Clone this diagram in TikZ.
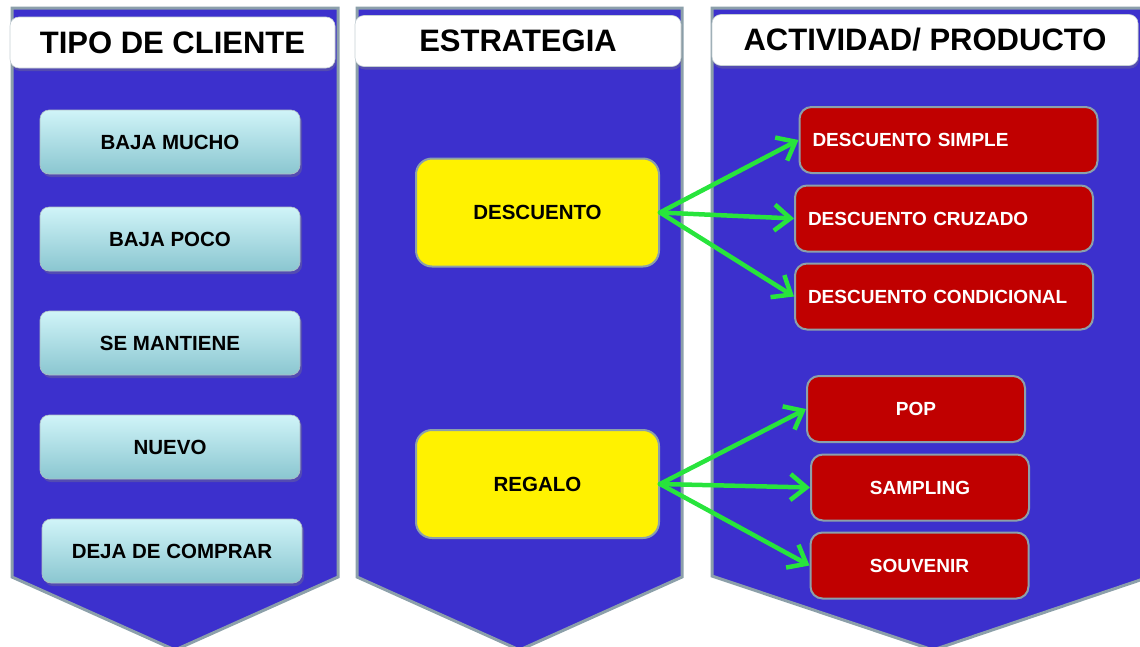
\documentclass[tikz,border=0pt]{standalone}
\usepackage{fontspec}
\setmainfont{Liberation Sans}
\usetikzlibrary{arrows.meta, shadows}

\definecolor{panelblue}{RGB}{60,48,205}
\definecolor{rimgrey}{RGB}{140,160,170}
\definecolor{boxred}{RGB}{192,0,0}
\definecolor{arrowgreen}{RGB}{40,228,60}
\definecolor{cyantop}{RGB}{208,244,248}
\definecolor{cyanbot}{RGB}{138,198,208}

\begin{document}
\begin{tikzpicture}[
            x = 1pt, y = -1pt, % one unit per pixel, y runs down
            > = {Straight Barb[length=16pt, width=26pt]}, % arrow head style
            semithick % line style
        ]

        \tikzstyle{panel}=[
            fill = panelblue,
            draw = rimgrey,
            line width = 3pt
        ]
        \tikzstyle{header}=[
            draw = rimgrey!50,
            fill = white,
            rounded corners = 9pt,
            minimum height = 51pt,
            font = \bfseries\fontsize{31}{31}\selectfont,
            drop shadow = {opacity = .35, shadow xshift = 1pt, shadow yshift = -3pt}
        ]
        \tikzstyle{client}=[
            draw = rimgrey!70,
            top color = cyantop,
            bottom color = cyanbot,
            rounded corners = 9pt,
            minimum width = 260pt,
            minimum height = 64pt,
            font = \bfseries\fontsize{20.5}{20.5}\selectfont,
            drop shadow = {opacity = .35, shadow xshift = 2pt, shadow yshift = -3pt}
        ]
        \tikzstyle{strategy}=[
            draw = rimgrey,
            line width = 2pt,
            fill = yellow,
            rounded corners = 16pt,
            minimum width = 243pt,
            minimum height = 108pt,
            font = \bfseries\fontsize{20.5}{20.5}\selectfont
        ]
        \tikzstyle{product}=[
            draw = rimgrey,
            line width = 2pt,
            fill = boxred,
            text = white,
            rounded corners = 12pt,
            minimum height = 66pt,
            font = \bfseries\fontsize{19}{19}\selectfont
        ]
        \tikzstyle{wide}=[text width = 272pt, align = left, inner xsep = 13pt]
        \tikzstyle{link}=[draw = arrowgreen, line width = 4.5pt, line cap = round]

        \path[use as bounding box, clip] (0,0) rectangle (1140,646);

        % the three columns
        \draw[panel] (12,8) -- (338,8) -- (338,577) -- (175,650) -- (12,577) -- cycle;
        \draw[panel] (357,8) -- (682,8) -- (682,577) -- (519.5,650) -- (357,577) -- cycle;
        \draw[panel] (712,8) -- (1152,8) -- (1152,576) -- (933,650) -- (712,576) -- cycle;

        \node[header, minimum width = 325pt] (tipo) at (172.5,42.5) {TIPO DE CLIENTE};
        \node[header, minimum width = 326pt] (estr) at (518,41) {ESTRATEGIA};
        \node[header, minimum width = 426pt] (acti) at (925,40) {ACTIVIDAD/ PRODUCTO};

        \node[client] (mucho) at (170,142) {BAJA MUCHO};
        \node[client] (poco) at (170,239) {BAJA POCO};
        \node[client] (mant) at (170,343) {SE MANTIENE};
        \node[client] (nuevo) at (170,447) {NUEVO};
        \node[client] (deja) at (172,551) {DEJA DE COMPRAR};

        \node[strategy] (desc) at (537.5,212.5) {DESCUENTO};
        \node[strategy] (regalo) at (537.5,484) {REGALO};

        \node[product, wide] (simple) at (948.5,140) {DESCUENTO SIMPLE};
        \node[product, wide] (cruz) at (944,218.5) {DESCUENTO CRUZADO};
        \node[product, wide] (cond) at (944,296.5) {DESCUENTO CONDICIONAL};
        \node[product, minimum width = 218pt] (pop) at (916,409) {POP};
        \node[product, minimum width = 218pt] (samp) at (920,487.5) {SAMPLING};
        \node[product, minimum width = 218pt] (souv) at (919.5,565.5) {SOUVENIR};

        \path[->] (desc.east) edge[link] (simple.west);
        \path[->] (desc.east) edge[link] (cruz.west);
        \path[->] (desc.east) edge[link] (cond.west);
        \path[->] (regalo.east) edge[link] (pop.west);
        \path[->] (regalo.east) edge[link] (samp.west);
        \path[->] (regalo.east) edge[link] (souv.west);

  \end{tikzpicture}
\end{document}
